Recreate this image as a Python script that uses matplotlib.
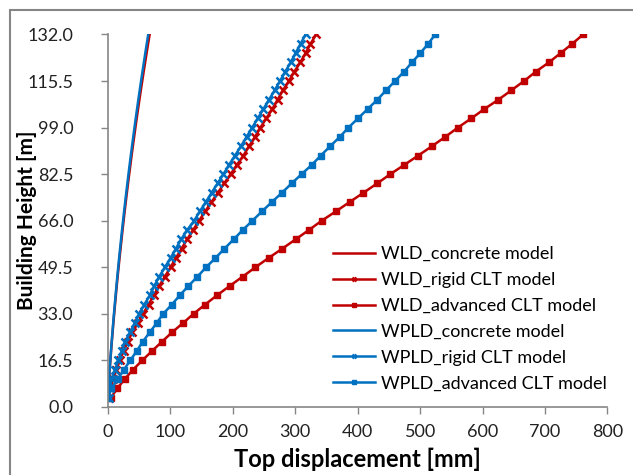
import matplotlib.pyplot as plt
from matplotlib.patches import Rectangle

# storey heights [m]
heights = [3.3, 6.6, 9.9, 13.2, 16.5, 19.8, 23.1, 26.4, 29.7, 33.0,
           36.3, 39.6, 42.9, 46.2, 49.5, 52.8, 56.1, 59.4, 62.7, 66.0,
           69.3, 72.6, 75.9, 79.2, 82.5, 85.8, 89.1, 92.4, 95.7, 99.0,
           102.3, 105.6, 108.9, 112.2, 115.5, 118.8, 122.1, 125.4, 128.7, 132.0]

# top displacement [mm]
wld_concrete = [0.2, 0.75, 1.75, 2.8, 3.9, 5.05, 6.2, 7.45, 8.7, 10.0,
                11.35, 12.7, 14.1, 15.55, 17.05, 18.6, 20.2, 21.8, 23.4, 25.1,
                26.8, 28.55, 30.35, 32.2, 34.05, 36.0, 37.9, 39.9, 41.95, 44.0,
                46.1, 48.25, 50.45, 52.65, 54.95, 57.25, 59.6, 61.95, 64.35, 66.8]
wld_rigid = [1.0, 4.0, 8.5, 13.5, 19.0, 25.0, 31.5, 39.0, 47.5, 56.0,
             65.2, 73.6, 82.1, 91.2, 100.3, 108.8, 117.9, 126.8, 136.4, 146.0,
             155.6, 165.8, 176.0, 186.0, 196.5, 206.5, 217.0, 226.0, 235.5, 244.1,
             253.7, 263.3, 271.7, 280.2, 289.8, 298.4, 308.0, 316.5, 324.4, 333.5]
wld_advanced = [5.0, 15.0, 27.0, 40.1, 55.0, 70.4, 86.4, 102.4, 120.0, 137.1,
                155.6, 174.8, 195.1, 215.8, 236.1, 257.3, 279.2, 300.5, 321.8, 342.3,
                364.9, 387.0, 409.1, 431.0, 452.2, 474.6, 496.9, 518.8, 540.1, 560.4,
                582.1, 602.9, 625.3, 646.0, 666.3, 685.0, 706.2, 724.9, 743.5, 761.0]
wpld_concrete = [0.2, 0.7, 1.69, 2.72, 3.78, 4.88, 6.02, 7.2, 8.41, 9.66,
                 10.95, 12.28, 13.64, 15.04, 16.48, 17.95, 19.47, 21.02, 22.6, 24.23,
                 25.89, 27.59, 29.32, 31.1, 32.91, 34.75, 36.64, 38.56, 40.52, 42.52,
                 44.55, 46.62, 48.73, 50.88, 53.07, 55.29, 57.55, 59.84, 62.18, 64.55]
wpld_rigid = [1.0, 3.0, 6.1, 11.3, 16.7, 22.0, 27.3, 35.3, 42.8, 50.2,
              58.2, 67.3, 74.2, 82.2, 91.2, 100.3, 108.8, 117.3, 126.8, 138.1,
              147.1, 156.7, 166.0, 175.5, 185.0, 194.0, 203.5, 213.0, 222.0, 231.0,
              240.0, 249.0, 258.0, 267.0, 275.5, 284.0, 292.5, 300.5, 308.5, 316.5]
wpld_advanced = [0.5, 5.5, 16.0, 25.5, 35.8, 46.0, 55.6, 66.8, 77.9, 88.5,
                 102.4, 115.2, 129.0, 143.4, 157.2, 172.2, 186.6, 201.4, 215.8, 231.3,
                 246.7, 262.4, 278.6, 294.1, 310.1, 326.5, 340.9, 355.9, 371.3, 385.1,
                 400.6, 416.0, 431.5, 445.4, 459.7, 474.1, 486.9, 500.2, 512.9, 524.1]

y_ticks = [0.0, 16.5, 33.0, 49.5, 66.0, 82.5, 99.0, 115.5, 132.0]
x_ticks = [0, 100, 200, 300, 400, 500, 600, 700, 800]

red = '#C00000'
blue = '#0070C0'
grey = '#868686'

plt.rcParams['font.family'] = ['Lato', 'DejaVu Sans']

fig = plt.figure(figsize=(6.33, 4.75), dpi=100)
ax = fig.add_axes([0.1705, 0.1432, 0.7892, 0.7842])

ax.plot(wld_concrete, heights, color=red, lw=1.8, label='WLD_concrete model')
ax.plot(wld_rigid, heights, color=red, lw=1.8, marker='x', ms=5.5, mew=1.8,
        label='WLD_rigid CLT model')
ax.plot(wld_advanced, heights, color=red, lw=1.8, marker='s', ms=5,
        label='WLD_advanced CLT model')
ax.plot(wpld_concrete, heights, color=blue, lw=1.8, label='WPLD_concrete model')
ax.plot(wpld_rigid, heights, color=blue, lw=1.8, marker='x', ms=5.5, mew=1.8,
        label='WPLD_rigid CLT model')
ax.plot(wpld_advanced, heights, color=blue, lw=1.8, marker='s', ms=5,
        label='WPLD_advanced CLT model')

ax.set_xlim(0, 800)
ax.set_ylim(0, 132)
ax.set_xticks(x_ticks)
ax.set_yticks(y_ticks)
ax.set_yticklabels([f'{v:.1f}' for v in y_ticks])
ax.tick_params(direction='out', length=5, width=1, color=grey, labelsize=13,
               labelcolor='#222222')
ax.tick_params(axis='x', pad=7)
ax.tick_params(axis='y', pad=20)

for side in ['top', 'right']:
    ax.spines[side].set_visible(False)
for side in ['left', 'bottom']:
    ax.spines[side].set_color(grey)
    ax.spines[side].set_linewidth(1.2)

ax.set_xlabel('Top displacement [mm]', fontsize=17, fontweight='bold')
ax.set_ylabel('Building Height [m]', fontsize=15, fontweight='bold')
ax.xaxis.set_label_coords(0.5, -0.11)
ax.yaxis.set_label_coords(-0.142, 0.5)

ax.legend(loc='upper left', bbox_to_anchor=(333 / 633, 1 - 246 / 475),
          bbox_transform=fig.transFigure, frameon=False, fontsize=13,
          handlelength=2.3, handletextpad=0.38, labelspacing=0.55,
          borderpad=0, borderaxespad=0, markerscale=0.65)

# outer chart frame
fig.add_artist(Rectangle((10 / 633, -0.2), 1.0, 1.2 - 10 / 475,
                         transform=fig.transFigure, fill=False,
                         edgecolor=grey, lw=1.5, clip_on=False))

fig.savefig('out.png', dpi=100)
